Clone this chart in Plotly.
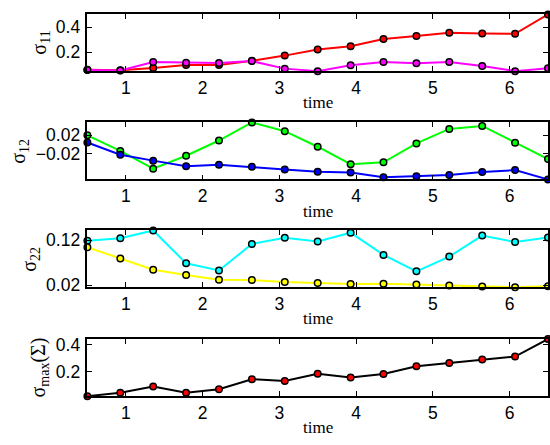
import plotly.graph_objects as go
from plotly.subplots import make_subplots

# Sample times shared by all four panels
time = [0.5, 0.929, 1.357, 1.786, 2.214, 2.643, 3.071, 3.5,
        3.929, 4.357, 4.786, 5.214, 5.643, 6.071, 6.5]

# Covariance entries of the two estimates
sigma11_a = [0.062, 0.058, 0.075, 0.099, 0.099, 0.132, 0.174, 0.223,
             0.249, 0.307, 0.330, 0.356, 0.350, 0.348, 0.503]
sigma11_b = [0.060, 0.056, 0.122, 0.117, 0.114, 0.130, 0.070, 0.050,
             0.097, 0.122, 0.112, 0.122, 0.091, 0.050, 0.073]

sigma12_a = [0.020, -0.0137, -0.0522, -0.0242, 0.0088, 0.048, 0.029, -0.0046,
             -0.0425, -0.0383, 0.0025, 0.034, 0.0404, 0.0038, -0.0312]
sigma12_b = [0.0046, -0.0221, -0.0347, -0.0467, -0.0438, -0.048, -0.0537, -0.0585,
             -0.0606, -0.0705, -0.0684, -0.0657, -0.0594, -0.0552, -0.0754]

sigma22_a = [0.1187, 0.1243, 0.1415, 0.0685, 0.0528, 0.1114, 0.1251, 0.1172,
             0.1365, 0.0872, 0.0507, 0.0835, 0.130, 0.1157, 0.1258]
sigma22_b = [0.1043, 0.0792, 0.0543, 0.0427, 0.032, 0.0314, 0.0271, 0.025,
             0.0228, 0.0234, 0.0213, 0.0192, 0.017, 0.0157, 0.0178]

sigma_max = [0.0195, 0.044, 0.0917, 0.044, 0.070, 0.145, 0.131, 0.186,
             0.157, 0.183, 0.241, 0.265, 0.292, 0.313, 0.443]

# Tick values / labels per panel
x_ticks = [1, 2, 3, 4, 5, 6]
y_ticks = [[0.2, 0.4], [-0.02, 0.02], [0.02, 0.12], [0.2, 0.4]]
y_ticktext = [["0.2", "0.4"], ["\u22120.02", "0.02"], ["0.02", "0.12"], ["0.2", "0.4"]]
y_titles = ["\u03c3<sub>11</sub>", "\u03c3<sub>12</sub>", "\u03c3<sub>22</sub>",
            "\u03c3<sub>max</sub>(\u03a3)"]
# horizontal centre of each rotated y label, px
y_title_x = [41, 20, 31, 40]

# (series, line colour, marker colour) for each panel, bottom layer first
panels = [
    [(sigma11_a, "#ff0000", "#ff0000"), (sigma11_b, "#ff00ff", "#ff00ff")],
    [(sigma12_a, "#00ff00", "#00ff00"), (sigma12_b, "#0000ff", "#0000ff")],
    [(sigma22_a, "#00ffff", "#00ffff"), (sigma22_b, "#ffff00", "#ffff00")],
    [(sigma_max, "#000000", "#ff0000")],
]

W, H = 550, 445
# axes box pixel extents (top, bottom)
boxes = [(10.7, 69.0), (121.7, 180.3), (232.7, 291.0), (344.3, 403.0)]
x_left = 87.7

fig = make_subplots(rows=4, cols=1)

for i, series in enumerate(panels):
    r = i + 1
    for vals, lc, mc in series:
        fig.add_trace(go.Scatter(
            x=time, y=vals, mode="lines+markers",
            line=dict(color=lc, width=2),
            marker=dict(color=mc, size=6.5, line=dict(color="black", width=1.5)),
            cliponaxis=False, showlegend=False,
        ), row=r, col=1)

    allv = [v for s in series for v in s[0]]
    top, bot = boxes[i]
    fig.update_yaxes(
        row=r, col=1,
        domain=[1 - bot / H, 1 - top / H],
        range=[min(allv), max(allv)],
        tickvals=y_ticks[i], ticktext=y_ticktext[i],
        ticks="inside", ticklen=5, tickwidth=1, tickcolor="black",
        showline=True, linecolor="black", linewidth=1.5, mirror="ticks",
        showgrid=False, zeroline=False,
        tickfont=dict(family="Liberation Sans", size=17.5, color="black"),
        ticklabelstandoff=2,
    )
    fig.update_xaxes(
        row=r, col=1,
        domain=[x_left / W, 1.0],
        range=[time[0], time[-1]],
        tickvals=x_ticks,
        ticks="inside", ticklen=5, tickwidth=1, tickcolor="black",
        showline=True, linecolor="black", linewidth=1.5, mirror="ticks",
        showgrid=False, zeroline=False,
        tickfont=dict(family="Liberation Sans", size=17.5, color="black"),
    )

    # y label (rotated) and x label
    fig.add_annotation(
        xref="paper", yref="paper", x=y_title_x[i] / W, y=1 - (top + bot) / 2 / H,
        text=y_titles[i], textangle=-90, showarrow=False,
        xanchor="center", yanchor="middle",
        font=dict(family="Liberation Serif", size=20, color="black"),
    )
    fig.add_annotation(
        xref="paper", yref="paper", x=(x_left + 551) / 2 / W, y=1 - (bot + 32.5) / H,
        text="time", showarrow=False, xanchor="center", yanchor="middle",
        font=dict(family="Liberation Serif", size=17, color="black"),
    )

fig.update_layout(
    width=W, height=H,
    margin=dict(l=0, r=0, t=0, b=0),
    paper_bgcolor="white", plot_bgcolor="white",
)

fig.write_html("out.html")
